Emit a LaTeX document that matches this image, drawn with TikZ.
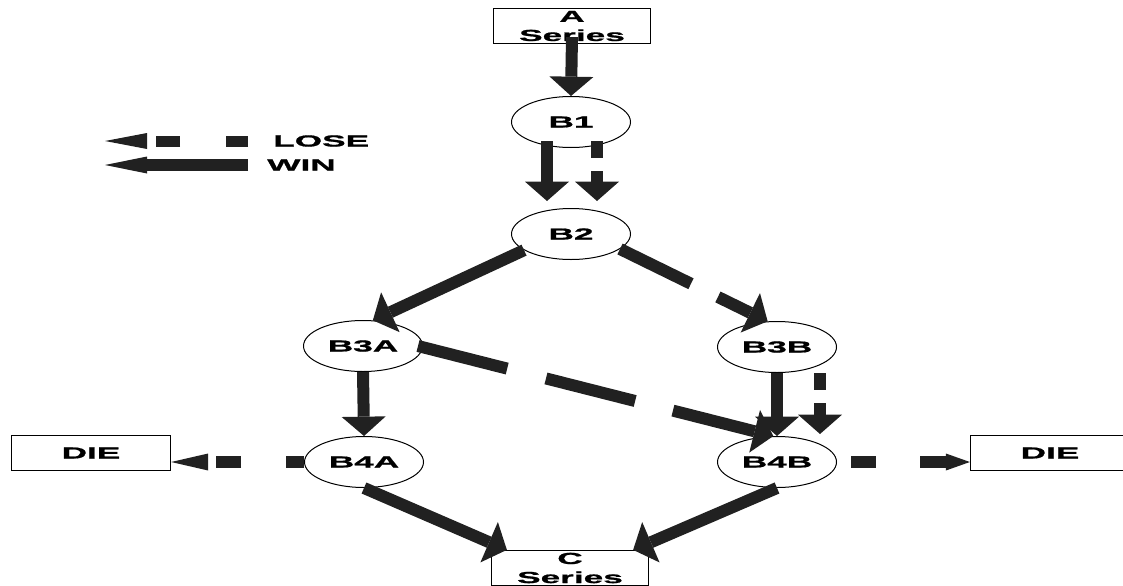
\documentclass[tikz,border=0pt]{standalone}
\usepackage{amsmath, tikz, xcolor}
\usepackage{fontspec}
\usetikzlibrary{arrows.meta, shapes.geometric, calc}
\newfontfamily\lblfont{Liberation Sans}[FakeStretch=2.2, FakeBold=1.2]
\definecolor{ink}{gray}{0.13}
\tikzset{
    lbl/.style={font=\lblfont\bfseries\fontsize{12pt}{14.3pt}\selectfont},
    game/.style={lbl, draw, ellipse, line width=0.75pt, minimum width=89.25pt, minimum height=38.25pt, inner sep=1pt},
    seriesbox/.style={lbl, draw, line width=0.9pt, minimum width=117.75pt, minimum height=26.25pt, inner sep=0pt, align=center},
    diebox/.style={seriesbox, minimum width=119.25pt},
    win/.style={draw=ink, line width=9pt, -{Triangle[width=33pt, length=14.5pt, line width=0pt]}},
    lose/.style={win, dash pattern=#1},
    loseshort/.style={lose={on 12.75pt off 9.75pt on 30pt}}
}

\begin{document}
\begin{tikzpicture}[x=0.75pt, y=-0.75pt]
    \useasboundingbox (0,0) rectangle (1123,585);
    \node[seriesbox] (A) at (572,26) {A\\Series};
    \node[game] (B1) at (571,122) {B1};
    \node[game] (B2) at (571,234) {B2};
    \node[game] (B3A) at (363,346) {B3A};
    \node[game] (B3B) at (777,347) {B3B};
    \node[game] (B4A) at (364,462) {B4A};
    \node[game] (B4B) at (777,462) {B4B};
    \node[diebox] (dieL) at (91,453) {DIE};
    \node[diebox] (dieR) at (1050,453) {DIE};
    \node[seriesbox] (C) at (570,568) {C\\Series};
    \node[lbl, anchor=west, inner sep=0pt] (loseTxt) at (273,141) {LOSE};
    \node[lbl, anchor=west, inner sep=0pt] (winTxt) at (267,165) {WIN};
    \coordinate (loseTip) at (105,141);
    \coordinate (winTip) at (105,165);
    \draw[lose={on 16.5pt off 34.5pt on 18pt off 15pt}, line width=8.25pt, -{Triangle[width=12pt, length=31.5pt, line width=0pt]}] ([xshift=-18.75pt]loseTxt.west) -- (loseTip);
    \draw[win, -{Triangle[width=12.75pt, length=31.5pt, line width=0pt]}] ([xshift=-14.25pt]winTxt.west) -- (winTip);
    \draw[win] ($(A.south)+(0,-7)$) -- (B1.north);
    \draw[win] ($(B1.south)+(-24,-7)$) -- ($(B2.north)+(-24,-7)$);
    \draw[loseshort] ($(B1.south)+(26,-7)$) -- ($(B2.north)+(26,-7)$);
    \draw[win] (B2.199) -- (B3A.69);
    \draw[lose={on 59.25pt off 22.5pt on 75pt}] (B2.343) -- (B3B.110);
    \draw[win] (B3A.south) -- (B4A.north);
    \draw[lose={on 69pt off 30pt on 69pt off 29.25pt on 82.5pt}] ($(B3A.east)+(-5,0)$) -- (B4B.98);
    \draw[win] (B3B.south) -- (B4B.north);
    \draw[loseshort] ($(B3B.south)+(43,0)$) -- ($(B4B.north)+(43,-2)$);
    \draw[lose={on 13.5pt off 33.75pt on 18.75pt off 15pt}, -{Triangle[width=12.75pt, length=27.75pt, line width=0pt]}] (B4A.west) -- (B4A.west -| dieL.east);
    \draw[lose={on 0pt off 10.5pt on 18.75pt off 33pt on 22.5pt}, -{Triangle[width=12.75pt, length=18pt, line width=0pt]}] (B4B.east) -- (B4B.east -| dieR.west);
    \draw[win] (B4A.south) -- (C.164);
    \draw[win] (B4B.south) -- (C.16);
\end{tikzpicture}
\end{document}
